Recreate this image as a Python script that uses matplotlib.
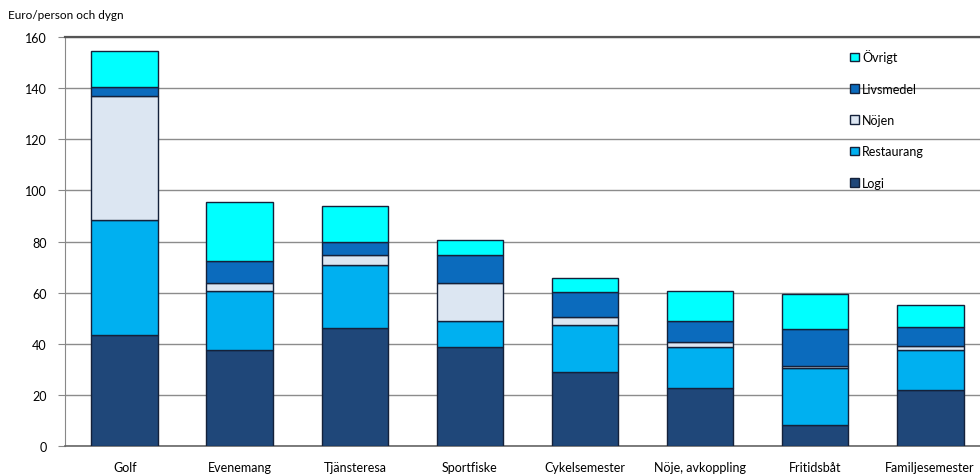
import matplotlib.pyplot as plt
import numpy as np

plt.rcParams['font.family'] = ['Lato', 'DejaVu Sans']

#------------------------------------------------------------------------------
# DATA (Euro/person och dygn)
categories = ['Golf', 'Evenemang', 'Tjänsteresa', 'Sportfiske', 'Cykelsemester',
              'Nöje, avkoppling', 'Fritidsbåt', 'Familjesemester']
logi       = [43.4, 37.6, 46.3, 38.9, 29.1, 22.8,  8.2, 21.9]
restaurang = [45.1, 22.9, 24.4, 10.1, 18.4, 16.1, 22.2, 15.5]
nojen      = [48.5,  3.1,  4.2, 14.9,  2.8,  1.9,  1.0,  1.8]
livsmedel  = [ 3.4,  8.9,  4.8, 11.0,  9.8,  8.1, 14.4,  7.2]
ovrigt     = [14.0, 23.1, 14.3,  5.6,  5.5, 11.6, 13.7,  8.6]

series = [('Logi', logi, '#1f4779'),
          ('Restaurang', restaurang, '#00b0f0'),
          ('Nöjen', nojen, '#dce6f2'),
          ('Livsmedel', livsmedel, '#0b6bbd'),
          ('Övrigt', ovrigt, '#00ffff')]

#------------------------------------------------------------------------------
# PLOT THE GRAPH
fig = plt.figure(figsize=(9.8, 4.77), dpi=100)
ax = fig.add_axes([0.0663, 0.0629, 1.0102 - 0.0663, 0.920 - 0.0629])

x = np.arange(len(categories))
bottom = np.zeros(len(categories))
handles = []
for name, vals, col in series:
    b = ax.bar(x, vals, 0.58, bottom=bottom, color=col, edgecolor='#14213a',
               linewidth=1.0, label=name, zorder=3)
    handles.append(b)
    bottom += np.array(vals)

# Format axes
ax.set_xlim(-0.52, 7.52)
ax.set_ylim(0, 160)
ax.set_yticks(np.arange(0, 161, 20))
ax.set_xticks(x)
ax.set_xticklabels(categories, fontsize=9)
ax.tick_params(axis='x', length=0, pad=11)
ax.tick_params(axis='y', length=5, color='#888888', labelsize=9, pad=8)
ax.yaxis.grid(True, color='#8c8c8c', linewidth=1.0, zorder=0)
ax.set_axisbelow(True)
ax.spines['right'].set_visible(False)
ax.spines['top'].set_color('#555555')
ax.spines['top'].set_linewidth(1.6)
ax.spines['left'].set_color('#888888')
ax.spines['bottom'].set_color('#666666')
ax.spines['bottom'].set_linewidth(1.2)

fig.text(0.008, 0.967, 'Euro/person och dygn', fontsize=8.5, va='center')

# Legend (reverse order, Övrigt on top)
leg = fig.legend(handles[::-1], [s[0] for s in series][::-1], loc='upper left',
                 bbox_to_anchor=(0.862, 0.905), frameon=False, fontsize=9,
                 handlelength=0.7, handleheight=0.7, handletextpad=0.3,
                 labelspacing=1.55, borderaxespad=0)

fig.savefig('out.png', dpi=100)
